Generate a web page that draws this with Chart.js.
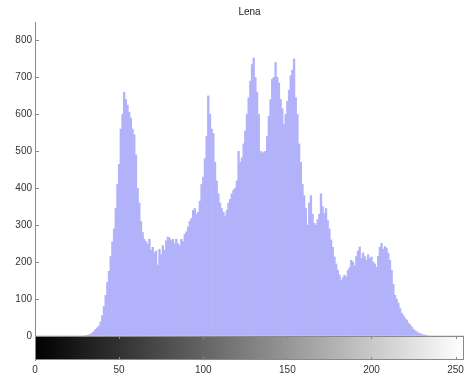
<!DOCTYPE html>
<html>
<head>
<meta charset="utf-8">
<script src="https://cdn.jsdelivr.net/npm/chart.js@4/dist/chart.umd.min.js"></script>
<style>
  html, body { margin: 0; padding: 0; background: #fff; }
  #wrap { width: 464px; height: 381px; }
</style>
</head>
<body>
<div id="wrap"><canvas id="hist"></canvas></div>
<script>
var chartTitle = "Lena"

// pixel count for every gray level 0..255
var counts = [
  0, 0, 0, 0, 0, 0, 0, 0, 0, 0,
  0, 0, 0, 0, 0, 0, 0, 0, 0, 0,
  0, 0, 0, 0, 0, 0, 0, 0, 0, 0,
  1, 2, 3, 5, 8, 12, 18, 22, 27, 38,
  55, 80, 110, 145, 175, 215, 255, 290, 345, 410,
  465, 560, 600, 660, 640, 625, 605, 590, 560, 545,
  490, 400, 360, 310, 280, 262, 255, 248, 262, 232,
  240, 225, 230, 192, 235, 220, 245, 232, 258, 268,
  265, 258, 262, 250, 262, 250, 245, 262, 255, 275,
  282, 295, 310, 318, 340, 345, 330, 335, 365, 410,
  430, 480, 540, 650, 600, 560, 548, 470, 420, 385,
  360, 345, 335, 325, 340, 360, 370, 385, 395, 400,
  420, 500, 470, 482, 520, 555, 600, 645, 690, 735,
  752, 700, 660, 600, 500, 495, 498, 500, 540, 595,
  640, 695, 700, 740, 700, 685, 640, 615, 572, 600,
  635, 665, 705, 720, 750, 645, 600, 520, 470, 410,
  380, 345, 300, 360, 380, 330, 305, 300, 315, 330,
  385, 350, 332, 345, 312, 290, 260, 240, 214, 195,
  178, 165, 151, 158, 165, 160, 178, 185, 205, 200,
  190, 215, 230, 241, 210, 225, 215, 205, 220, 210,
  214, 200, 195, 186, 215, 240, 251, 235, 242, 238,
  224, 205, 178, 140, 110, 100, 89, 75, 62, 55,
  48, 43, 35, 30, 24, 18, 14, 11, 8, 6,
  4, 3, 2, 1, 0, 0, 0, 0, 0, 0,
  0, 0, 0, 0, 0, 0, 0, 0, 0, 0,
  0, 0, 0, 0, 0, 0
]
var xTicks = [0, 50, 100, 150, 200, 250]
var yTicks = [0, 100, 200, 300, 400, 500, 600, 700, 800]

var pts = counts.map((c, i) => ({x: i, y: c}))

// gray ramp under the histogram + inward tick marks
var ramp = {
  id: "ramp",
  afterDraw(chart) {
    var ctx = chart.ctx, xs = chart.scales.x, ys = chart.scales.y
    var l = xs.getPixelForValue(0), r = xs.getPixelForValue(255)
    var t = ys.getPixelForValue(0), b = chart.chartArea.bottom
    var g = ctx.createLinearGradient(l, 0, r, 0)
    g.addColorStop(0, "#000")
    g.addColorStop(1, "#fff")
    ctx.save()
    ctx.fillStyle = g
    ctx.fillRect(l, t, r - l, b - t)
    ctx.strokeStyle = "#8a8a8a"
    ctx.lineWidth = 1
    ctx.strokeRect(Math.round(l) + 0.5, Math.round(t) + 0.5, Math.round(r - l) - 1, Math.round(b - t) - 1)
    ctx.beginPath()
    xTicks.forEach(v => {
      var px = Math.round(xs.getPixelForValue(v)) + 0.5
      ctx.moveTo(px, t); ctx.lineTo(px, t + 3)
      ctx.moveTo(px, b); ctx.lineTo(px, b - 3)
    })
    yTicks.forEach(v => {
      var py = Math.round(ys.getPixelForValue(v)) + 0.5
      ctx.moveTo(l, py); ctx.lineTo(l + 4, py)
    })
    ctx.stroke()
    ctx.restore()
  }
}

new Chart("hist", {
  type: "bar",
  data: {
    datasets: [{
      data: pts,
      backgroundColor: "rgb(178,178,250)",
      borderWidth: 0,
      barPercentage: 1,
      categoryPercentage: 1,
      grouped: false
    }]
  },
  options: {
    responsive: true,
    maintainAspectRatio: false,
    animation: false,
    layout: {padding: 0},
    plugins: {
      legend: {display: false},
      tooltip: {enabled: false},
      title: {
        display: true,
        fullSize: false,
        text: chartTitle,
        color: "#222",
        font: {family: "Liberation Sans", size: 10, weight: "normal"},
        padding: {top: 6, bottom: 4}
      }
    },
    scales: {
      x: {
        type: "linear",
        min: 0,
        max: 255,
        offset: false,
        afterBuildTicks: s => { s.ticks = xTicks.map(v => ({value: v})) },
        afterFit: s => { s.paddingLeft = 0; s.paddingRight = 0; s.height = 21 },
        grid: {display: true, offset: false, drawOnChartArea: false, drawTicks: false},
        border: {display: false},
        ticks: {color: "#333", padding: 4, maxRotation: 0, font: {family: "Liberation Sans", size: 10}}
      },
      y: {
        min: -65,
        max: 850,
        afterBuildTicks: s => { s.ticks = yTicks.map(v => ({value: v})) },
        afterFit: s => { s.width = 35; s.paddingTop = 0; s.paddingBottom = 0 },
        grid: {display: true, drawOnChartArea: false, drawTicks: false},
        border: {display: true, color: "#8a8a8a"},
        ticks: {color: "#333", padding: 3, font: {family: "Liberation Sans", size: 10}}
      }
    }
  },
  plugins: [ramp]
})
</script>
</body>
</html>
